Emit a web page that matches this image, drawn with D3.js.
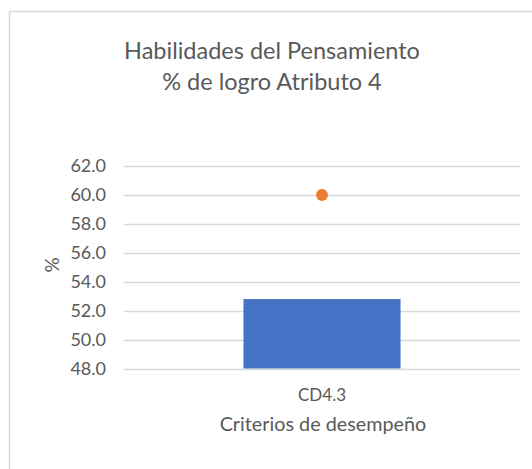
<!DOCTYPE html>
<html>
<head>
<meta charset="utf-8">
<script src="https://cdn.jsdelivr.net/npm/d3@7"></script>
<style>
	body { margin: 0; background: #ffffff; }
	svg { display: block; font-family: Lato, 'Open Sans', sans-serif; }
</style>
</head>
<body>
<div id="chart"></div>
<script>
// data
const categories = ['CD4.3']
const logro = [52.8]
const meta = [60.0]
const yTicks = [48, 50, 52, 54, 56, 58, 60, 62]
const titleLines = ['Habilidades del Pensamiento', '% de logro Atributo 4']

const width = 532
const height = 469
const margin = { top: 166, right: 12, bottom: 100, left: 124 }

const svg = d3.select('#chart')
	.append('svg')
	.attr('width', width)
	.attr('height', height)

// chart frame (runs past the right and bottom edges)
svg.append('rect')
	.attr('x', 9.5)
	.attr('y', 11.5)
	.attr('width', 600)
	.attr('height', 600)
	.attr('fill', '#ffffff')
	.attr('stroke', '#d9d9d9')
	.attr('stroke-width', 1.5)

const x = d3.scaleBand()
	.domain(categories)
	.range([margin.left, 520])
	.paddingInner(0.432)
	.paddingOuter(0.432)

const y = d3.scaleLinear()
	.domain([48, 62])
	.range([368.5, margin.top])

// gridlines
svg.append('g')
	.selectAll('line')
	.data(yTicks)
	.join('line')
	.attr('x1', margin.left)
	.attr('x2', 520)
	.attr('y1', d => Math.round(y(d)) + 0.5)
	.attr('y2', d => Math.round(y(d)) + 0.5)
	.attr('stroke', '#d9d9d9')
	.attr('stroke-width', 1.3)

// y axis labels
const yAxis = svg.append('g')
	.attr('transform', `translate(${margin.left - 18},0)`)
	.call(d3.axisLeft(y).tickValues(yTicks).tickFormat(d3.format('.1f')).tickSize(0).tickPadding(0))
yAxis.select('.domain').remove()
yAxis.selectAll('text')
	.attr('fill', '#595959')
	.style('font-size', '18px')
	.style('font-family', 'Lato, sans-serif')

// bars
svg.append('g')
	.selectAll('rect')
	.data(categories)
	.join('rect')
	.attr('x', d => x(d))
	.attr('width', x.bandwidth())
	.attr('y', (d, i) => y(logro[i]))
	.attr('height', (d, i) => y(48) - y(logro[i]))
	.attr('fill', '#4472c4')

// meta points
svg.append('g')
	.selectAll('circle')
	.data(categories)
	.join('circle')
	.attr('cx', d => x(d) + x.bandwidth() / 2)
	.attr('cy', (d, i) => y(meta[i]))
	.attr('r', 6)
	.attr('fill', '#ed7d31')

// x axis labels
const xAxis = svg.append('g')
	.attr('transform', `translate(0,${y(48) + 20})`)
	.call(d3.axisBottom(x).tickSize(0).tickPadding(0))
xAxis.select('.domain').remove()
xAxis.selectAll('text')
	.attr('fill', '#595959')
	.style('font-size', '17px')
	.style('font-family', 'Lato, sans-serif')

// axis titles
svg.append('text')
	.attr('x', 323)
	.attr('y', 431)
	.attr('text-anchor', 'middle')
	.attr('fill', '#595959')
	.style('font-size', '19.8px')
	.text('Criterios de desempeño')

svg.append('text')
	.attr('transform', 'translate(59,265) rotate(-90)')
	.attr('text-anchor', 'middle')
	.attr('fill', '#595959')
	.style('font-size', '19px')
	.text('%')

// title
svg.append('g')
	.selectAll('text')
	.data(titleLines)
	.join('text')
	.attr('x', 272)
	.attr('y', (d, i) => 59 + i * 31)
	.attr('text-anchor', 'middle')
	.attr('fill', '#595959')
	.style('font-size', '23.5px')
	.text(d => d)
</script>
</body>
</html>
